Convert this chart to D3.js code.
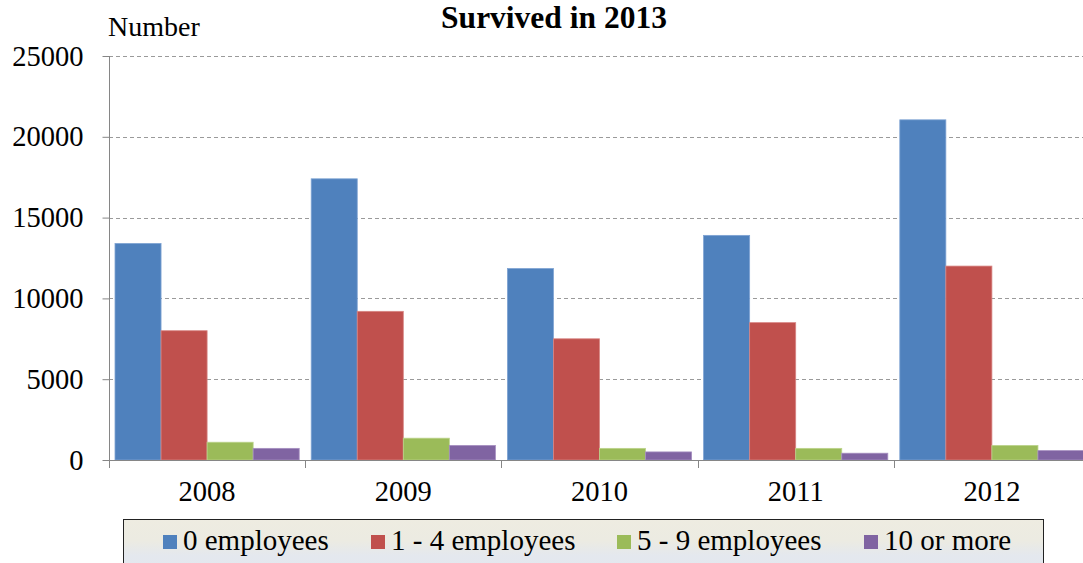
<!DOCTYPE html>
<html>
<head>
<meta charset="utf-8">
<script src="https://cdn.jsdelivr.net/npm/d3@7"></script>
<style>
  body { margin: 0; background: #fff; }
  svg { display: block; }
</style>
</head>
<body>
<svg id="chart" width="1083" height="563"></svg>
<script>
// Enterprises born in each year that survived in 2013, by size class
const years = ["2008", "2009", "2010", "2011", "2012"];
const seriesNames = ["0 employees", "1 - 4 employees", "5 - 9 employees", "10 or more"];
const zeroEmployees = [13400, 17400, 11850, 13900, 21050];
const oneToFour = [8000, 9200, 7500, 8500, 12000];
const fiveToNine = [1100, 1350, 720, 720, 900];
const tenOrMore = [720, 900, 500, 420, 580];
const yTickValues = [0, 5000, 10000, 15000, 20000, 25000];
const titleText = "Survived in 2013";
const yLabel = "Number";

const seriesValues = [zeroEmployees, oneToFour, fiveToNine, tenOrMore];
const fills = ["#4F81BD", "#C0504D", "#9BBB59", "#8064A2"];
const edges = ["#7FA3D3", "#D88583", "#BBD38A", "#A58EC0"];
const SERIF = "'Liberation Serif', 'Times New Roman', serif";

const W = 1083, H = 563;
const plot = { left: 109, right: 1090, top: 56, bottom: 460 };

const svg = d3.select("#chart");

const y = d3.scaleLinear().domain([0, 25000]).range([plot.bottom, plot.top]);
const x0 = d3.scaleBand().domain(years).range([plot.left, plot.right]).padding(0);
const x1 = d3.scaleBand().domain(seriesNames).range([6, x0.bandwidth() - 6]).padding(0);

// dashed horizontal gridlines
svg.append("g")
  .selectAll("line")
  .data(yTickValues.filter(v => v > 0))
  .join("line")
  .attr("x1", plot.left)
  .attr("x2", W)
  .attr("y1", d => Math.round(y(d)) + 0.5)
  .attr("y2", d => Math.round(y(d)) + 0.5)
  .attr("stroke", "#9A9A9A")
  .attr("stroke-width", 1)
  .attr("stroke-dasharray", "4,3");

// bars
const groups = svg.append("g")
  .selectAll("g")
  .data(years)
  .join("g")
  .attr("transform", d => `translate(${x0(d)},0)`);

groups.selectAll("rect")
  .data((yr, i) => seriesNames.map((s, k) => ({ s, k, v: seriesValues[k][i] })))
  .join("rect")
  .attr("x", d => x1(d.s))
  .attr("y", d => y(d.v))
  .attr("width", x1.bandwidth())
  .attr("height", d => y(0) - y(d.v))
  .attr("fill", d => fills[d.k])
  .attr("stroke", d => edges[d.k])
  .attr("stroke-width", 0.8);

// y axis
const yAxis = svg.append("g")
  .attr("transform", `translate(${plot.left + 0.5},0)`)
  .call(d3.axisLeft(y).tickValues(yTickValues).tickFormat(d3.format("d"))
    .tickSize(7).tickSizeOuter(0).tickPadding(19));
yAxis.attr("font-family", SERIF);
yAxis.select(".domain").remove();
yAxis.selectAll(".tick line").attr("stroke", "#868686");
yAxis.selectAll("text")
  .style("font-family", SERIF)
  .style("font-size", "28.5px")
  .attr("fill", "#000");
svg.append("line")
  .attr("x1", plot.left + 0.5).attr("x2", plot.left + 0.5)
  .attr("y1", plot.top).attr("y2", plot.bottom + 8)
  .attr("stroke", "#868686");

// x axis: category labels at band centres, ticks at band boundaries
const xAxis = svg.append("g")
  .attr("transform", `translate(0,${plot.bottom})`)
  .call(d3.axisBottom(x0).tickSize(0).tickPadding(21));
xAxis.attr("font-family", SERIF);
xAxis.select(".domain").remove();
xAxis.selectAll("text")
  .style("font-family", SERIF)
  .style("font-size", "28.5px")
  .attr("fill", "#000");

svg.append("line")
  .attr("x1", plot.left).attr("x2", W)
  .attr("y1", plot.bottom + 0.5).attr("y2", plot.bottom + 0.5)
  .attr("stroke", "#868686");
svg.append("g")
  .selectAll("line")
  .data(years.map(d => x0(d)).concat([plot.right]))
  .join("line")
  .attr("x1", d => Math.round(d) + 0.5).attr("x2", d => Math.round(d) + 0.5)
  .attr("y1", plot.bottom).attr("y2", plot.bottom + 8)
  .attr("stroke", "#868686");

// title and axis label
svg.append("text")
  .attr("x", 554)
  .attr("y", 28)
  .attr("text-anchor", "middle")
  .style("font-family", SERIF)
  .style("font-size", "31.5px")
  .style("font-weight", "bold")
  .text(titleText);

svg.append("text")
  .attr("x", 108)
  .attr("y", 36)
  .style("font-family", SERIF)
  .style("font-size", "28px")
  .text(yLabel);

// legend
const defs = svg.append("defs");
const grad = defs.append("linearGradient")
  .attr("id", "legendFill")
  .attr("x1", 0).attr("y1", 0).attr("x2", 0).attr("y2", 1);
grad.append("stop").attr("offset", "0%").attr("stop-color", "#EEECE1");
grad.append("stop").attr("offset", "35%").attr("stop-color", "#ECEBE2");
grad.append("stop").attr("offset", "60%").attr("stop-color", "#E4E8EE");
grad.append("stop").attr("offset", "100%").attr("stop-color", "#E2E8F0");

svg.append("rect")
  .attr("x", 123.5).attr("y", 519.5)
  .attr("width", 920).attr("height", 60)
  .attr("fill", "url(#legendFill)")
  .attr("stroke", "#222")
  .attr("stroke-width", 1);

const legendX = [163, 371, 617, 864];
const legend = svg.append("g")
  .selectAll("g")
  .data(seriesNames)
  .join("g")
  .attr("transform", (d, i) => `translate(${legendX[i]},0)`);
legend.append("rect")
  .attr("x", 0).attr("y", 535)
  .attr("width", 14).attr("height", 14)
  .attr("fill", (d, i) => fills[i]);
legend.append("text")
  .attr("x", 20).attr("y", 550)
  .style("font-family", SERIF)
  .style("font-size", "29px")
  .attr("fill", "#000")
  .text(d => d);
</script>
</body>
</html>
